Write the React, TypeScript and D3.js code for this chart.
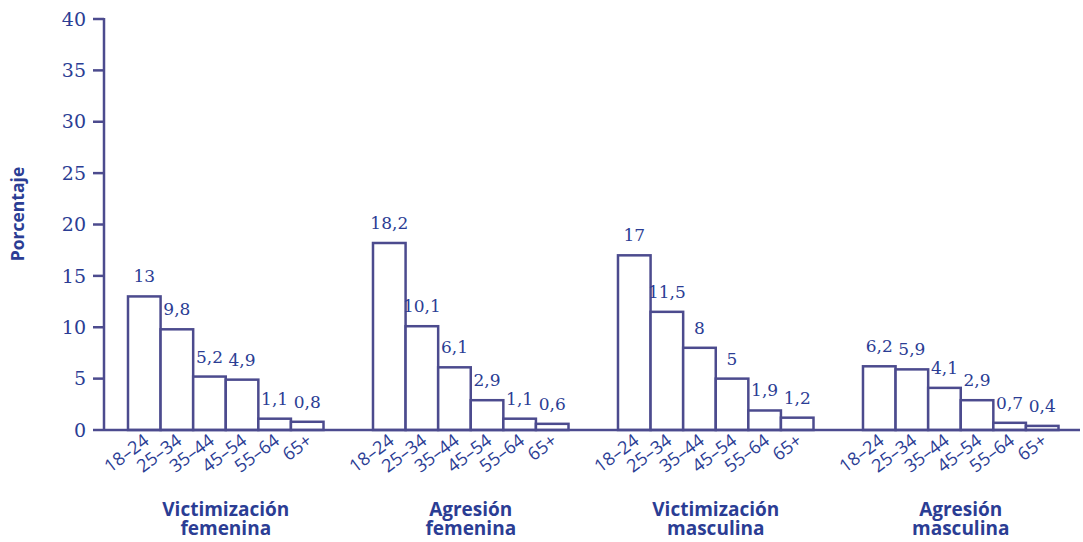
import React from "react";
import * as d3 from "d3";

const groups = [
  ["Victimización", "femenina"],
  ["Agresión", "femenina"],
  ["Victimización", "masculina"],
  ["Agresión", "masculina"],
];
const ageBands = ["18–24", "25–34", "35–44", "45–54", "55–64", "65+"];

const victimizacionFemenina = [13, 9.8, 5.2, 4.9, 1.1, 0.8];
const agresionFemenina = [18.2, 10.1, 6.1, 2.9, 1.1, 0.6];
const victimizacionMasculina = [17, 11.5, 8, 5, 1.9, 1.2];
const agresionMasculina = [6.2, 5.9, 4.1, 2.9, 0.7, 0.4];
const seriesValues = [
  victimizacionFemenina,
  agresionFemenina,
  victimizacionMasculina,
  agresionMasculina,
];

const yTicks = [0, 5, 10, 15, 20, 25, 30, 35, 40];

const W = 1083;
const H = 542;
const TEXT = "#2b3d94";
const LINE = "#4c4b8e";

const fmt = (v: number) => String(v).replace(".", ",");

export default function App() {
  const y = d3.scaleLinear().domain([0, 40]).range([430, 19]);
  const groupKeys = groups.map((_, i) => String(i));
  const x0 = d3.scaleBand<string>().domain(groupKeys).range([128, 1058.5]).paddingInner(0.202).paddingOuter(0);
  const x1 = d3.scaleBand<string>().domain(ageBands).range([0, x0.bandwidth()]).padding(0);

  return (
    <svg
      width={W}
      height={H}
      style={{ position: "absolute", left: 0, top: 0, background: "#fff" }}
    >
      {/* value axis */}
      <line x1={104} x2={104} y1={y(40) - 1} y2={y(0)} stroke={LINE} strokeWidth={2.5} />
      {yTicks.map((t) => (
        <g key={t} transform={`translate(0,${y(t)})`}>
          <line x1={93} x2={104} stroke={LINE} strokeWidth={2.5} />
          <text
            x={86}
            dy="0.35em"
            textAnchor="end"
            fontFamily="'DejaVu Serif', serif"
            fontSize={19}
            fill={TEXT}
          >
            {t}
          </text>
        </g>
      ))}
      <text
        transform={`translate(24,214) rotate(-90)`}
        textAnchor="middle"
        fontFamily="'Open Sans', sans-serif"
        fontWeight={700}
        fontSize={17.5}
        fill={TEXT}
      >
        Porcentaje
      </text>

      {/* bars */}
      {seriesValues.map((vals, gi) => {
        const gx = x0(String(gi)) as number;
        const mid = x0.bandwidth() / 2;
        return (
          <g key={gi} transform={`translate(${gx},0)`}>
            {vals.map((v, i) => {
              const bx = x1(ageBands[i]) as number;
              const cx = bx + x1.bandwidth() / 2;
              return (
                <g key={i}>
                  <rect
                    x={bx}
                    y={y(v)}
                    width={x1.bandwidth()}
                    height={y(0) - y(v)}
                    fill="#fff"
                    stroke={LINE}
                    strokeWidth={2.5}
                  />
                  <text
                    x={cx}
                    y={y(v) - 14}
                    textAnchor="middle"
                    fontFamily="'DejaVu Serif', serif"
                    fontSize={17}
                    fill={TEXT}
                  >
                    {fmt(v)}
                  </text>
                  <text
                    transform={`translate(${cx + 6},443) rotate(-37)`}
                    textAnchor="end"
                    fontFamily="'Open Sans', sans-serif"
                    fontSize={18}
                    fill={TEXT}
                  >
                    {ageBands[i]}
                  </text>
                </g>
              );
            })}
            <text
              x={mid}
              y={516}
              textAnchor="middle"
              fontFamily="'Open Sans', sans-serif"
              fontWeight={700}
              fontSize={19}
              fill={TEXT}
            >
              {groups[gi][0]}
            </text>
            <text
              x={mid}
              y={535}
              textAnchor="middle"
              fontFamily="'Open Sans', sans-serif"
              fontWeight={700}
              fontSize={19}
              fill={TEXT}
            >
              {groups[gi][1]}
            </text>
          </g>
        );
      })}

      {/* baseline */}
      <line x1={104} x2={1080} y1={y(0)} y2={y(0)} stroke={LINE} strokeWidth={2.5} />
    </svg>
  );
}
